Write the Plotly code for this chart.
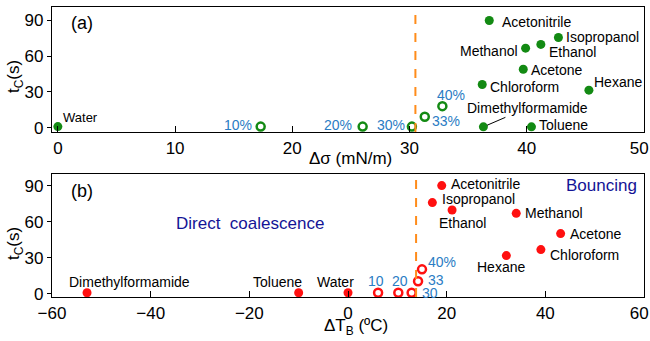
import plotly.graph_objects as go
from plotly.subplots import make_subplots

# ---------------- data ----------------
# Panel (a): critical time vs surface-tension difference
a_names = ["Water", "Acetonitrile", "Isopropanol", "Methanol", "Ethanol", "Acetone",
           "Chloroform", "Hexane", "Dimethylformamide", "Toluene"]
a_dsigma = [0.0, 36.8, 42.7, 39.9, 41.2, 39.7, 36.2, 45.3, 36.3, 40.4]
a_tc = [1.0, 89.7, 75.5, 66.6, 69.7, 49.0, 36.2, 31.5, 0.8, 0.8]

a_mix_labels = ["10%", "20%", "30%", "33%", "40%"]
a_mix_dsigma = [17.3, 26.0, 30.2, 31.3, 32.8]
a_mix_tc = [1.0, 1.0, 1.0, 9.2, 18.1]
a_threshold = 30.5

# Panel (b): critical time vs boiling-temperature difference
b_names = ["Dimethylformamide", "Toluene", "Water", "Acetonitrile", "Isopropanol", "Ethanol",
           "Methanol", "Acetone", "Chloroform", "Hexane"]
b_dtb = [-52.9, -10.0, 0.0, 19.0, 17.1, 21.1, 34.1, 43.1, 39.1, 32.1]
b_tc = [0.8, 0.8, 0.8, 90.3, 76.1, 69.9, 67.1, 50.2, 36.8, 31.8]

b_mix_labels = ["10", "20", "30", "33", "40%"]
b_mix_dtb = [6.1, 10.2, 12.9, 14.2, 15.0]
b_mix_tc = [0.8, 0.8, 0.8, 10.3, 20.3]
b_threshold = 13.8

y_ticks = [0, 30, 60, 90]
a_xticks = [0, 10, 20, 30, 40, 50]
a_xtick_text = ["0", "10", "20", "30", "40", "50\u00a0\u00a0"]
b_xticks = [-60, -40, -20, 0, 20, 40, 60]
b_xtick_text = ["\u221260", "\u221240", "\u221220", "0", "20", "40", "60\u00a0\u00a0"]

# ---------------- styling ----------------
FONT = "Liberation Sans, Arial, Helvetica, sans-serif"
GREEN = "#138a13"
RED = "#ff1010"
ORANGE = "#ff8c1a"
PCTBLUE = "#2a7cc4"
DARKBLUE = "#141496"

# label placement (pixel offsets relative to the point): xanchor, xshift, yshift
a_label_pos = {
    "Water": ("left", 3, 9),
    "Acetonitrile": ("left", 11, -1),
    "Isopropanol": ("left", 6, 1),
    "Methanol": ("right", -6, -3),
    "Ethanol": ("left", 6, -8),
    "Acetone": ("left", 6, -1),
    "Chloroform": ("left", 6, -2),
    "Hexane": ("left", 3, 8),
    "Toluene": ("left", 6, 2),
}
a_mix_pos = [("right", -7, 2), ("right", -9, 2), ("right", -5, 2), ("left", 5, -4), ("left", -7, 11)]

b_label_pos = {
    "Dimethylformamide": ("left", -20, 11),
    "Toluene": ("right", 5, 11),
    "Water": ("right", 8, 11),
    "Acetonitrile": ("left", 7, 2),
    "Isopropanol": ("left", 8, 4),
    "Ethanol": ("center", 10, -13),
    "Methanol": ("left", 7, 0),
    "Acetone": ("left", 7, 0),
    "Chloroform": ("left", 7, -5),
    "Hexane": ("center", -5, -11),
}
b_mix_pos = [("center", -2, 12), ("center", 2, 12), ("left", 8, 0), ("left", 8, 1), ("left", 4, 7)]

fig = make_subplots(rows=2, cols=1, vertical_spacing=0.0)

fig.add_trace(go.Scatter(x=a_dsigma, y=a_tc, mode="markers",
                         marker=dict(color=GREEN, size=9), showlegend=False), row=1, col=1)
fig.add_trace(go.Scatter(x=a_mix_dsigma, y=a_mix_tc, mode="markers",
                         marker=dict(symbol="circle-open", color=GREEN, size=8,
                                     line=dict(width=2.5, color=GREEN)), showlegend=False), row=1, col=1)
fig.add_trace(go.Scatter(x=b_dtb, y=b_tc, mode="markers",
                         marker=dict(color=RED, size=9), showlegend=False), row=2, col=1)
fig.add_trace(go.Scatter(x=b_mix_dtb, y=b_mix_tc, mode="markers",
                         marker=dict(symbol="circle-open", color=RED, size=8,
                                     line=dict(width=2.5, color=RED)), showlegend=False), row=2, col=1)

annotations = []
for name, xv, yv in zip(a_names, a_dsigma, a_tc):
    if name in a_label_pos:
        anc, xs, ys = a_label_pos[name]
        annotations.append(dict(x=xv, y=yv, xref="x", yref="y", text=name, showarrow=False,
                                xanchor=anc, yanchor="middle", xshift=xs, yshift=ys,
                                font=dict(size=13 if name == "Water" else 14, color="black", family=FONT)))
    else:
        annotations.append(dict(x=xv, y=yv, xref="x", yref="y", text=name, showarrow=True,
                                arrowhead=0, arrowwidth=1, arrowcolor="black", ax=44, ay=-19,
                                standoff=4,
                                font=dict(size=14, color="black", family=FONT)))
for lab, xv, yv, (anc, xs, ys) in zip(a_mix_labels, a_mix_dsigma, a_mix_tc, a_mix_pos):
    annotations.append(dict(x=xv, y=yv, xref="x", yref="y", text=lab, showarrow=False,
                            xanchor=anc, yanchor="middle", xshift=xs, yshift=ys,
                            font=dict(size=14, color=PCTBLUE, family=FONT)))
for name, xv, yv in zip(b_names, b_dtb, b_tc):
    anc, xs, ys = b_label_pos[name]
    annotations.append(dict(x=xv, y=yv, xref="x2", yref="y2", text=name, showarrow=False,
                            xanchor=anc, yanchor="middle", xshift=xs, yshift=ys,
                            font=dict(size=14, color="black", family=FONT)))
for lab, xv, yv, (anc, xs, ys) in zip(b_mix_labels, b_mix_dtb, b_mix_tc, b_mix_pos):
    annotations.append(dict(x=xv, y=yv, xref="x2", yref="y2", text=lab, showarrow=False,
                            xanchor=anc, yanchor="middle", xshift=xs, yshift=ys,
                            font=dict(size=14, color=PCTBLUE, family=FONT)))

# regime labels
annotations.append(dict(x=-19.9, y=59, xref="x2", yref="y2", text="Direct  coalescence",
                        showarrow=False, font=dict(size=17, color=DARKBLUE, family=FONT)))
annotations.append(dict(x=51.3, y=90.5, xref="x2", yref="y2", text="Bouncing",
                        showarrow=False, font=dict(size=17, color=DARKBLUE, family=FONT)))
# panel labels
annotations.append(dict(x=0.028, y=0.87, xref="x domain", yref="y domain", text="(a)",
                        xanchor="left", yanchor="middle", showarrow=False,
                        font=dict(size=18, color="black", family=FONT)))
annotations.append(dict(x=0.028, y=0.86, xref="x2 domain", yref="y2 domain", text="(b)",
                        xanchor="left", yanchor="middle", showarrow=False,
                        font=dict(size=18, color="black", family=FONT)))

W, H = 650, 341
L, R, T, B = 52, 6, 7, 44
# axis titles (positions in page pixels from top-left)
px_titles = [
    (350, 159, "\u0394\u03c3 (mN/m)", 0),
    (356, 327, "\u0394T<sub>B</sub> (\u00baC)", 0),
    (15, 77, "t<sub>C</sub>(s)", -90),
    (15, 244, "t<sub>C</sub>(s)", -90),
]
for px, py, txt, ang in px_titles:
    annotations.append(dict(x=(px - L) / (W - L - R), y=((H - py) - B) / (H - T - B),
                            xref="paper", yref="paper", text=txt, textangle=ang,
                            showarrow=False, xanchor="center", yanchor="middle",
                            font=dict(size=17, color="black", family=FONT)))

shapes = [
    dict(type="line", xref="x", yref="y domain", x0=a_threshold, x1=a_threshold, y0=0, y1=1,
         line=dict(color=ORANGE, width=2, dash="dash")),
    dict(type="line", xref="x2", yref="y2 domain", x0=b_threshold, x1=b_threshold, y0=0, y1=1,
         line=dict(color=ORANGE, width=2, dash="dash")),
]

axis_common = dict(showline=True, linecolor="black", linewidth=1.3, mirror=True,
                   showgrid=False, zeroline=False, ticklabeloverflow="allow", automargin=False,
                   tickfont=dict(size=17, color="black", family=FONT))

fig.update_layout(
    width=W, height=H,
    margin=dict(l=L, r=R, t=T, b=B, autoexpand=False),
    paper_bgcolor="white", plot_bgcolor="white",
    annotations=annotations, shapes=shapes,
    xaxis=dict(domain=[0, 1], range=[-0.5, 50], tickvals=a_xticks, ticktext=a_xtick_text,
               ticks="inside", ticklen=6, tickcolor="black", anchor="y", **axis_common),
    yaxis=dict(domain=[0.569, 1.0], range=[-3.5, 101], tickvals=y_ticks, ticks="outside", ticklen=4,
               tickcolor="black", anchor="x", **axis_common),
    xaxis2=dict(domain=[0, 1], range=[-60, 60], tickvals=b_xticks, ticktext=b_xtick_text,
                ticks="inside", ticklen=6, tickcolor="black", anchor="y2", **axis_common),
    yaxis2=dict(domain=[0.0, 0.4255], range=[-2.8, 100.3], tickvals=y_ticks, ticks="outside", ticklen=4,
                tickcolor="black", anchor="x2", **axis_common),
)

fig.write_html("out.html", config={"displayModeBar": False},
               post_script="document.body.style.margin='0';document.body.style.overflow='hidden';")
